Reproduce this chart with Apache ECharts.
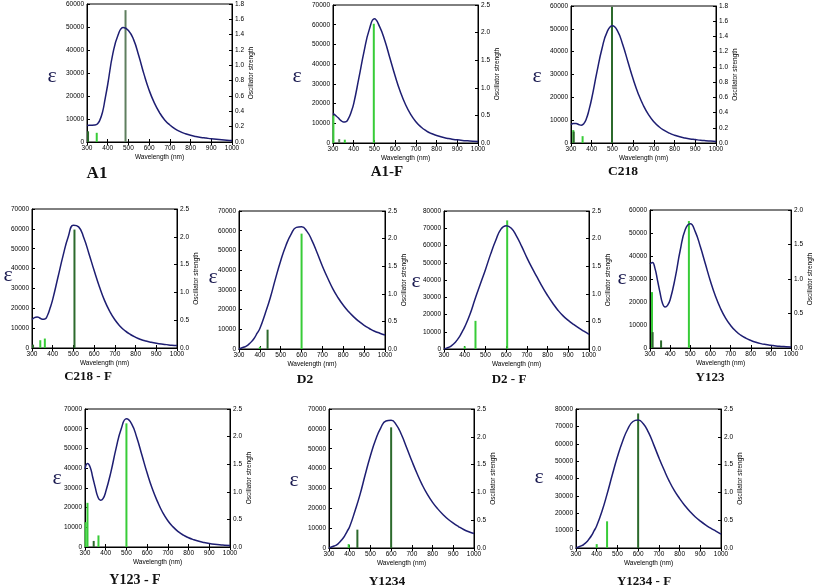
<!DOCTYPE html>
<html>
<head>
<meta charset="utf-8">
<script src="https://cdn.jsdelivr.net/npm/echarts@6/dist/echarts.min.js"></script>
<style>
html,body{margin:0;padding:0;background:#fff;}
#chart{width:815px;height:588px;}
</style>
</head>
<body>
<div id="chart"></div>
<script>
// ---------- DATA ----------
const wavelengths = [300,312,325,337,350,362,375,387,400,425,450,475,500,525,550,575,600,625,650,675,700,725,750,775,800,825,850,875,900,925,950,975,1000];

const epsA1     = [7200,7300,7300,7350,7800,9500,13000,18500,25000,38500,46500,49800,48500,44500,37500,29500,22500,17000,12800,9600,7400,5700,4500,3600,2900,2400,2000,1700,1400,1150,950,800,700];
const epsA1F    = [15000,14000,12800,11500,10700,10800,12500,15500,20000,33000,46500,57500,63000,59000,52000,43000,34000,26000,19500,14500,10800,8100,6200,4800,3800,3000,2400,1900,1600,1300,1100,900,800];
const epsC218   = [8000,8500,8500,8100,7800,8500,10800,14500,19500,31000,41500,48800,51300,49000,43000,35500,28000,21500,16300,12300,9300,7100,5500,4300,3400,2700,2200,1800,1500,1200,1000,850,700];
const epsC218F  = [14300,15300,15600,15100,14500,14600,16500,20000,24500,35500,46500,56000,61800,61000,55500,47500,39000,31000,24000,18500,14200,11000,8600,6800,5400,4300,3500,2900,2400,2000,1700,1400,1200];
const epsD2     = [0,500,1000,1600,2700,4000,5800,8000,10400,17800,26000,35700,44800,52500,58300,61700,62000,59800,55000,48700,42000,36000,30500,26000,22200,19000,16300,14000,12000,10400,9000,8000,7100];
const epsD2F    = [0,500,1100,2000,3300,5000,7200,9800,12800,20000,29000,37500,46000,55000,63000,69500,71500,70000,65500,59500,53000,47000,41500,36000,31000,26500,22500,19200,16600,14300,12200,10300,8500];
const epsY123   = [36500,37200,34500,29500,24000,19500,17800,18500,21000,30500,42500,51500,54000,50500,44000,36500,29000,22500,17200,13000,9800,7400,5600,4300,3300,2500,1900,1500,1200,900,700,550,400];
const epsY123F  = [39500,42300,40500,35500,30000,25500,23700,24500,28000,38000,50000,60000,65000,62500,55500,46500,37500,29500,23000,17500,13300,10200,7800,6000,4700,3700,2900,2300,1800,1400,1100,900,700];
const epsY1234  = [0,500,1000,1600,2800,4200,6000,8300,10800,18500,27000,37000,46500,54500,60500,64000,64300,62000,57000,50500,43800,37500,31800,27000,23000,19700,16900,14500,12500,10800,9300,8200,7300];
const epsY1234F = [0,600,1200,2000,3300,5000,7200,9800,12800,21000,31000,42000,52500,61500,68500,72800,73600,71500,66500,59500,52000,45000,38500,33000,28500,24500,21000,18000,15500,13300,11400,9700,8000];

// oscillator-strength sticks (wavelength, strength)
const stickWlA1 = [305,347,486];            const stickFA1 = [0.14,0.12,1.72];
const stickWlA1F = [302,330,357,497];       const stickFA1F = [0.5,0.07,0.06,2.16];
const stickWlC218 = [311,313,356,498];      const stickFC218 = [0.17,0.15,0.09,1.79];
const stickWlC218F = [305,340,362,505];     const stickFC218F = [0.06,0.14,0.17,2.13];
const stickWlD2 = [400,437,600];            const stickFD2 = [0.04,0.35,2.09];
const stickWlD2F = [400,452,605];           const stickFD2F = [0.05,0.51,2.33];
const stickWlY123 = [310,313,355,493];      const stickFY123 = [0.81,0.23,0.11,1.84];
const stickWlY123F = [303,312,342,365,500]; const stickFY123F = [0.45,0.8,0.11,0.21,2.24];
const stickWlY1234 = [395,437,600];         const stickFY1234 = [0.07,0.33,2.17];
const stickWlY1234F = [400,450,600];        const stickFY1234F = [0.07,0.48,2.42];

const panelNames = ['A1','A1-F','C218','C218 - F','D2','D2 - F','Y123','Y123 - F','Y1234','Y1234 - F'];
const epsMaxTicks = [60000,70000,60000,70000,70000,80000,60000,70000,70000,80000];
const oscMaxTicks = [1.8,2.5,1.8,2.5,2.5,2.5,2.0,2.5,2.5,2.5];
const oscIntervals = [0.2,0.5,0.2,0.5,0.5,0.5,0.5,0.5,0.5,0.5];

// ---------- LAYOUT / STYLE ----------
const epsSeries = [epsA1,epsA1F,epsC218,epsC218F,epsD2,epsD2F,epsY123,epsY123F,epsY1234,epsY1234F];
const stickWls = [stickWlA1,stickWlA1F,stickWlC218,stickWlC218F,stickWlD2,stickWlD2F,stickWlY123,stickWlY123F,stickWlY1234,stickWlY1234F];
const stickFs = [stickFA1,stickFA1F,stickFC218,stickFC218F,stickFD2,stickFD2F,stickFY123,stickFY123F,stickFY1234,stickFY1234F];
const DK = '#2c6a2c', LT = '#38cc38', GR = '#5f7f5f';
const stickColors = [
  [DK,LT,GR],[LT,GR,LT,LT],[LT,DK,LT,DK],[DK,LT,LT,DK],[LT,DK,LT],
  [LT,LT,LT],[LT,DK,DK,LT],[LT,LT,DK,LT,LT],[LT,DK,DK],[LT,LT,DK]
];
const boxes = [
  [87,4,232,142],[333,5,478,143],[571,6,716,143],
  [32,209,177,348],[239,211,385,349],[444,211,589,349],[650,210,795,348],
  [85,409,230,547],[329,409,474,548],[576,409,721,548]
];
const titlePos = [[97,174],[387,172],[623,172],[88,377],[305,380],[509,380],[710,378],[135,580],[387,582],[644,582]];
const titleSize = [17,15,13.5,13,13.5,13,13,14,13.5,13];
const epsPos = [[52,76],[297,76],[537,76],[8,275],[213,277],[416,281],[622,278],[57,478],[294,480],[539,477]];

const FONT = 'Liberation Sans';
const lbl = {fontSize:6.5, color:'#000', fontFamily:FONT, margin:3};
const nameStyle = {fontSize:6.5, color:'#000', fontFamily:FONT};
const grids=[], xAxes=[], topAxes=[], yAxes=[], series=[], graphics=[];
const tick = {show:true, inside:true, length:3, lineStyle:{color:'#000'}};
const line = {show:true, lineStyle:{color:'#000', width:1}};
boxes.forEach((b,i)=>{
  grids.push({left:b[0], top:b[1], width:b[2]-b[0], height:b[3]-b[1], show:true, borderColor:'#000', borderWidth:1, backgroundColor:'transparent'});
  xAxes.push({type:'value', gridIndex:i, min:300, max:1000, interval:100,
    axisLine:line, axisTick:tick, splitLine:{show:false},
    axisLabel:Object.assign({formatter:v=>String(v)}, lbl),
    name:'Wavelength (nm)', nameLocation:'middle', nameGap:12, nameTextStyle:nameStyle});
  topAxes.push({type:'value', gridIndex:i, position:'top', min:300, max:1000, interval:100,
    axisLine:line, axisTick:tick, splitLine:{show:false}, axisLabel:{show:false}});
  yAxes.push({type:'value', gridIndex:i, min:0, max:epsMaxTicks[i], interval:10000,
    axisLine:line, axisTick:tick, splitLine:{show:false},
    axisLabel:Object.assign({formatter:v=>String(v)}, lbl)});
  yAxes.push({type:'value', gridIndex:i, position:'right', min:0, max:oscMaxTicks[i], interval:oscIntervals[i],
    axisLine:line, axisTick:tick, splitLine:{show:false},
    axisLabel:Object.assign({formatter:v=>v.toFixed(1)}, lbl),
    name:'Oscillator strength', nameLocation:'middle', nameRotate:90, nameGap:13, nameTextStyle:nameStyle});
  series.push({type:'bar', xAxisIndex:i, yAxisIndex:2*i+1, barWidth:2, silent:true, animation:false,
    data: stickWls[i].map((w,k)=>({value:[w, stickFs[i][k]], itemStyle:{color:stickColors[i][k]}}))});
  series.push({type:'line', xAxisIndex:i, yAxisIndex:2*i, smooth:0.5, showSymbol:false, animation:false,
    lineStyle:{color:'#1e1e72', width:1.5},
    data: wavelengths.map((w,k)=>[w, epsSeries[i][k]])});
  graphics.push({type:'text', x:titlePos[i][0], y:titlePos[i][1],
    style:{text:panelNames[i], font:'bold '+titleSize[i]+'px "Liberation Serif", serif', fill:'#111', textAlign:'center', textVerticalAlign:'middle'}});
  graphics.push({type:'text', x:epsPos[i][0], y:epsPos[i][1],
    style:{text:'ε', font:'22px "Liberation Serif", serif', fill:'#1a1a50', textAlign:'center', textVerticalAlign:'middle'}});
});

const chart = echarts.init(document.getElementById('chart'), null, {renderer:'canvas'});
chart.setOption({animation:false, backgroundColor:'#fff', grid:grids, xAxis:xAxes.concat(topAxes), yAxis:yAxes, series:series, graphic:graphics});
</script>
</body>
</html>
